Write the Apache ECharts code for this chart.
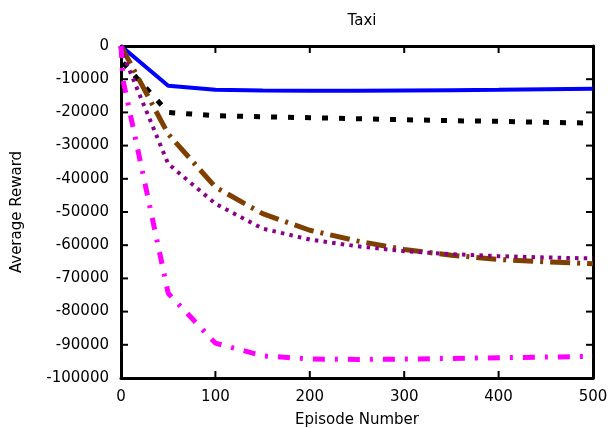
<!DOCTYPE html>
<html>
<head>
<meta charset="utf-8">
<script src="https://cdn.jsdelivr.net/npm/echarts@6/dist/echarts.min.js"></script>
<style>
html,body{margin:0;padding:0;background:#fff;}
#chart{width:608px;height:428px;}
</style>
</head>
<body>
<div id="chart"></div>
<script>
var titleText = 'Taxi';
var xAxisTitle = 'Episode Number';
var yAxisTitle = 'Average Reward';
var episodes = [0, 2, 50, 100, 150, 200, 250, 300, 350, 400, 450, 500];
var seriesBlue    = [0, -500, -12000, -13200, -13400, -13500, -13500, -13400, -13300, -13200, -13000, -12900];
var seriesBlack   = [0, -5000, -20000, -21000, -21300, -21600, -21900, -22200, -22500, -22700, -23000, -23200];
var seriesBrown   = [0, -1000, -26500, -42500, -50500, -55500, -58700, -61300, -63000, -64300, -65000, -65600];
var seriesPurple  = [0, -2500, -35500, -47500, -55000, -58300, -60300, -61800, -62700, -63300, -63700, -64000];
var seriesMagenta = [0, -10000, -74500, -89500, -93300, -94300, -94400, -94300, -94100, -93900, -93700, -93500];
var xTicks = [0, 100, 200, 300, 400, 500];
var yTicks = [0, -10000, -20000, -30000, -40000, -50000, -60000, -70000, -80000, -90000, -100000];

(function () {
  function pairs(vals) {
    return episodes.map(function (e, i) { return [e, vals[i]]; });
  }
  var FONT = 'DejaVu Sans';
  var chart = echarts.init(document.getElementById('chart'), null, {renderer: 'canvas'});
  var xMin = xTicks[0], xMax = xTicks[xTicks.length - 1];
  var yMin = yTicks[yTicks.length - 1], yMax = yTicks[0];

  function frameAxis(extra) {
    return Object.assign({
      type: 'value',
      axisLine: {show: true, onZero: false, lineStyle: {color: '#000', width: 3}},
      axisTick: {show: false},
      axisLabel: {show: false},
      splitLine: {show: false}
    }, extra);
  }
  function plain(v) { return String(v); }
  function mkLine(name, vals, color, width, dash) {
    return {
      name: name, type: 'line', data: pairs(vals), showSymbol: false, symbol: 'none',
      xAxisIndex: 0, yAxisIndex: 0,
      lineStyle: {color: color, width: width, type: dash, cap: 'butt'},
      animation: false, clip: true
    };
  }
  chart.setOption({
    animation: false,
    backgroundColor: '#fff',
    title: {
      text: titleText, left: 357, top: 9, textAlign: 'center',
      textStyle: {fontFamily: FONT, fontSize: 15, fontWeight: 'normal', color: '#000'}
    },
    grid: {left: 121, right: 15, top: 46, bottom: 50, containLabel: false, outerBoundsMode: 'none'},
    xAxis: [
      frameAxis({
        min: xMin, max: xMax, interval: 100, position: 'bottom',
        name: xAxisTitle, nameLocation: 'middle', nameGap: 35,
        nameTextStyle: {fontFamily: FONT, fontSize: 15, color: '#000'},
        axisLabel: {show: true, fontFamily: FONT, fontSize: 15, color: '#000', margin: 12, formatter: plain}
      }),
      frameAxis({min: xMin, max: xMax, interval: 100, position: 'top'})
    ],
    yAxis: [
      frameAxis({
        min: yMin, max: yMax, interval: 10000, position: 'left',
        name: yAxisTitle, nameLocation: 'middle', nameGap: 96, nameRotate: 90,
        nameTextStyle: {fontFamily: FONT, fontSize: 15, color: '#000'},
        axisLabel: {show: true, fontFamily: FONT, fontSize: 15, color: '#000', margin: 12, formatter: plain}
      }),
      frameAxis({min: yMin, max: yMax, interval: 10000, position: 'right'})
    ],
    series: [
      mkLine('blue', seriesBlue, '#0000ff', 4, 'solid'),
      mkLine('black', seriesBlack, '#000000', 5, [6, 11]),
      mkLine('brown', seriesBrown, '#7f3f00', 5, [20, 7, 3, 7]),
      mkLine('purple', seriesPurple, '#8b008b', 4, [3.5, 5.2]),
      mkLine('magenta', seriesMagenta, '#ff00ff', 5, [12, 10, 3, 10])
    ]
  });

  // inward tick marks on all four sides, positioned through the axes' scales
  var TICK = 7;
  var pxLeft = chart.convertToPixel({xAxisIndex: 0}, xMin);
  var pxRight = chart.convertToPixel({xAxisIndex: 0}, xMax);
  var pxTop = chart.convertToPixel({yAxisIndex: 0}, yMax);
  var pxBottom = chart.convertToPixel({yAxisIndex: 0}, yMin);
  var tickEls = [];
  function tickStyle() { return {stroke: '#000', lineWidth: 2}; }
  yTicks.forEach(function (v) {
    if (v === yMin || v === yMax) return;
    var y = chart.convertToPixel({yAxisIndex: 0}, v);
    tickEls.push({type: 'line', shape: {x1: pxLeft, y1: y, x2: pxLeft + TICK, y2: y}, style: tickStyle(), silent: true, z: 10});
    tickEls.push({type: 'line', shape: {x1: pxRight - TICK, y1: y, x2: pxRight, y2: y}, style: tickStyle(), silent: true, z: 10});
  });
  xTicks.forEach(function (v) {
    if (v === xMin || v === xMax) return;
    var x = chart.convertToPixel({xAxisIndex: 0}, v);
    tickEls.push({type: 'line', shape: {x1: x, y1: pxBottom, x2: x, y2: pxBottom - TICK}, style: tickStyle(), silent: true, z: 10});
    tickEls.push({type: 'line', shape: {x1: x, y1: pxTop, x2: x, y2: pxTop + TICK}, style: tickStyle(), silent: true, z: 10});
  });
  chart.setOption({graphic: tickEls});
})();
</script>
</body>
</html>
